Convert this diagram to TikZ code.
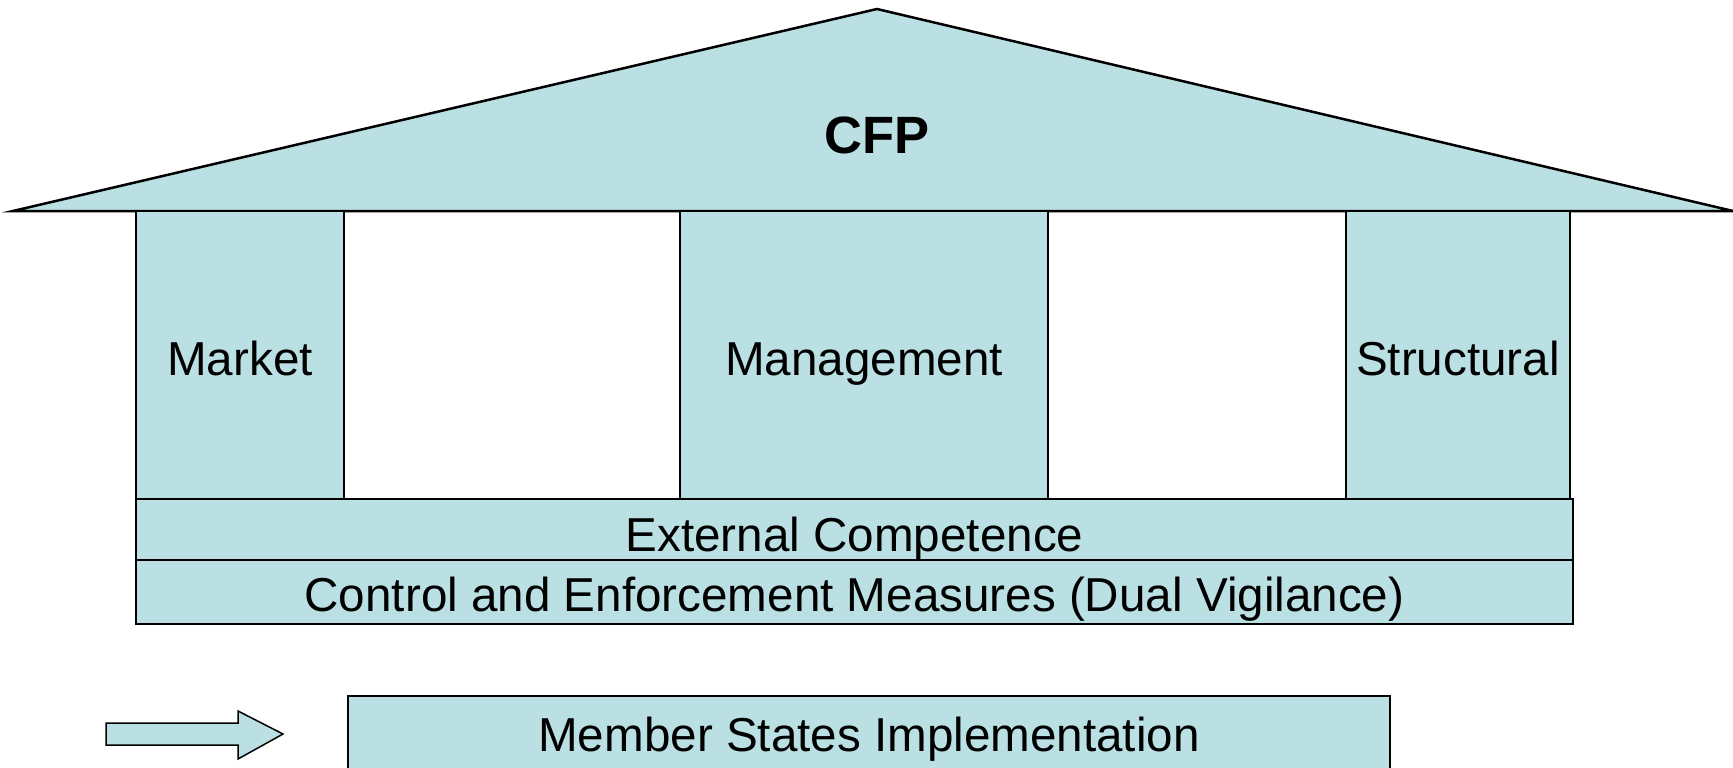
\documentclass[tikz,border=0pt]{standalone}
\usepackage{fontspec}
\setmainfont{Liberation Sans}
\definecolor{pale}{RGB}{186,224,227}
\begin{document}
\begin{tikzpicture}[x=1pt,y=-1pt,
  part/.style={draw=black,fill=pale,line width=1.5pt},
  lbl/.style={font=\fontsize{47.6}{57}\selectfont,inner sep=0pt,anchor=base}]
\useasboundingbox (0,0) rectangle (1733,768);
% roof
\draw[part,line width=2.5pt,line join=miter] (13,211) coordinate (rl) -- (877,9) coordinate (apex) -- (1733,211) coordinate (rr) -- cycle;
\node[lbl,font=\fontsize{52.5}{62}\selectfont\bfseries,anchor=center] (cfp) at (877,135) {CFP};
% pillars
\draw[part] (136,211) rectangle (344,499);
\node[lbl] (market) at (240,375.5) {Market};
\draw[part] (680,211) rectangle (1048,499);
\node[lbl] (mgmt) at (864,375.5) {Management};
\draw[part] (1346,211) rectangle (1570,499);
\node[lbl] (struct) at (1458,375.5) {Structural};
% base bands
\draw[part] (136,499) rectangle (1573,560);
\node[lbl] (ext) at (854.5,551) {External Competence};
\draw[part] (136,560) rectangle (1573,624);
\node[lbl] (ctrl) at (854.5,611) {Control and Enforcement Measures (Dual Vigilance)};
% bottom
\draw[part] (348,696) rectangle (1390,790);
\node[lbl] (msi) at (869,751) {Member States Implementation};
% arrow
\draw[part] (106,723) -- (238,723) -- (238,711) -- (283,734) -- (238,759) -- (238,745) -- (106,745) -- cycle;
\end{tikzpicture}
\end{document}
